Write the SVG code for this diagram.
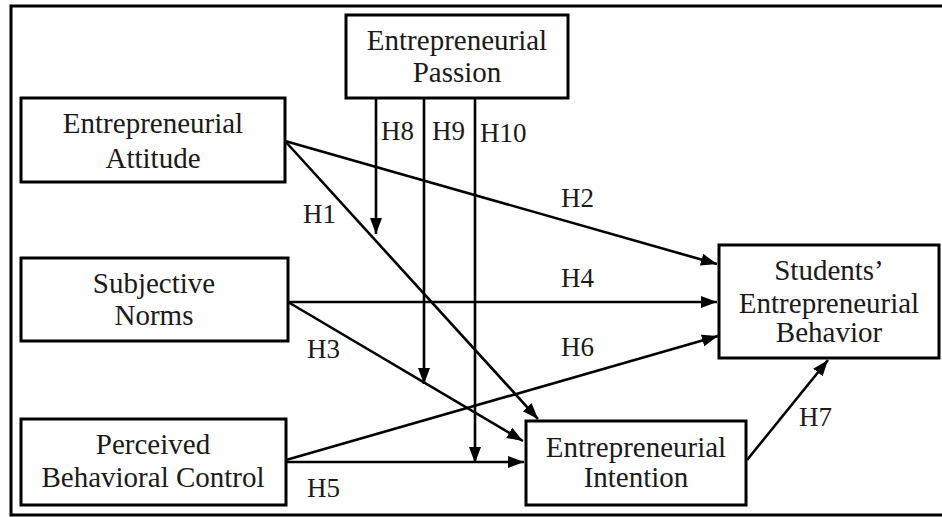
<svg xmlns="http://www.w3.org/2000/svg" width="942" height="517" viewBox="0 0 942 517">
<style>
.box{fill:#fff;stroke:#000;stroke-width:3}
text{font-family:'Liberation Serif','Times New Roman',serif;fill:#1a1a1a}
.t{font-size:29px;text-anchor:middle}
.l{font-size:27px}
.c{stroke:#000;stroke-width:2.6;fill:none;marker-end:url(#ah)}
</style>
<defs>
<marker id="ah" markerUnits="userSpaceOnUse" markerWidth="17" markerHeight="13" refX="16" refY="6.5" orient="auto">
<path d="M0,0.5 L16,6.5 L0,12.5 z" fill="#000"/>
</marker>
</defs>
<rect x="0" y="0" width="942" height="517" fill="#fff"/>
<rect x="11" y="6" width="940" height="509" fill="none" stroke="#000" stroke-width="3"/>
<g id="connectors">
<line class="c" x1="376" y1="98" x2="376" y2="234"/>
<line class="c" x1="424" y1="98" x2="424" y2="384"/>
<line class="c" x1="475" y1="98" x2="475" y2="463"/>
<line class="c" x1="285" y1="141" x2="538" y2="419"/>
<line class="c" x1="285" y1="141" x2="717" y2="264"/>
<line class="c" x1="288" y1="302" x2="717" y2="302"/>
<line class="c" x1="288" y1="302" x2="523" y2="441"/>
<line class="c" x1="286" y1="460" x2="718" y2="336"/>
<line class="c" x1="286" y1="462" x2="524" y2="462"/>
<line class="c" x1="747" y1="460" x2="828" y2="360"/>
<text class="l" x="381" y="140">H8</text>
<text class="l" x="432" y="140">H9</text>
<text class="l" x="480" y="142">H10</text>
<text class="l" x="303" y="223">H1</text>
<text class="l" x="561" y="207">H2</text>
<text class="l" x="561" y="287">H4</text>
<text class="l" x="307" y="358">H3</text>
<text class="l" x="561" y="356">H6</text>
<text class="l" x="307" y="497">H5</text>
<text class="l" x="799" y="426">H7</text>
</g>
<g id="passion">
<rect class="box" x="346" y="15" width="222" height="83"/>
<text class="t" x="457" y="50">Entrepreneurial</text>
<text class="t" x="457" y="82">Passion</text>
</g>
<g id="attitude">
<rect class="box" x="21" y="98" width="264" height="84"/>
<text class="t" x="153" y="133">Entrepreneurial</text>
<text class="t" x="153" y="168">Attitude</text>
</g>
<g id="norms">
<rect class="box" x="21" y="258" width="267" height="83"/>
<text class="t" x="154" y="293">Subjective</text>
<text class="t" x="154" y="325">Norms</text>
</g>
<g id="pbc">
<rect class="box" x="21" y="419" width="265" height="86"/>
<text class="t" x="153" y="454">Perceived</text>
<text class="t" x="153" y="487">Behavioral Control</text>
</g>
<g id="behavior">
<rect class="box" x="719" y="245" width="220" height="113"/>
<text class="t" x="829" y="280">Students’</text>
<text class="t" x="829" y="313">Entrepreneurial</text>
<text class="t" x="829" y="342">Behavior</text>
</g>
<g id="intention">
<rect class="box" x="526" y="421" width="220" height="84"/>
<text class="t" x="636" y="457">Entrepreneurial</text>
<text class="t" x="636" y="487">Intention</text>
</g>
</svg>
